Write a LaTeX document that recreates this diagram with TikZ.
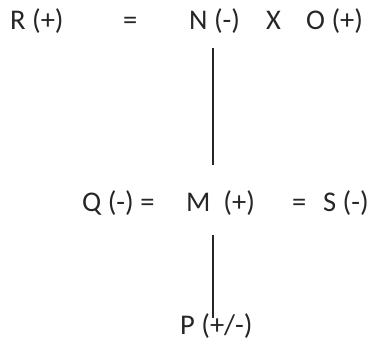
\documentclass[tikz,border=0pt]{standalone}
\usepackage{fontspec}
\setmainfont{Carlito}

\begin{document}
\begin{tikzpicture}[x=1pt,y=1pt,
    every node/.style={inner sep=0pt, anchor=base west, text=black!85,
      font=\fontsize{28.5}{32}\selectfont},
    stemline/.style={line width=1.1pt, black!85}]
   \useasboundingbox (0,0) rectangle (368,341);

    % obere Zeile
    \node (R)   at (10,311)  {R (+)};
    \node (eqa) at (123,311) {=};
    \node (N)   at (189,311) {N (-)};
    \node (X)   at (266,311) {X};
    \node (O)   at (306,311) {O (+)};

    % mittlere Zeile
    \node (Q)   at (82,129)  {Q (-) =};
    \node (M)   at (186,129) {M\ \ (+)};
    \node (eqb) at (292,129) {=};
    \node (S)   at (323,129) {S (-)};

    % untere Zeile
    \node (P)   at (180,6)   {P (+/-)};

    % senkrechte Striche
    \coordinate (stem) at (213,0);
    \draw[stemline] ([yshift=-18pt]N.base -| stem) -- ([yshift=47pt]M.base -| stem);
    \draw[stemline] ([yshift=-23pt]M.base -| stem) -- ([yshift=17pt]P.base -| stem);
\end{tikzpicture}
\end{document}
